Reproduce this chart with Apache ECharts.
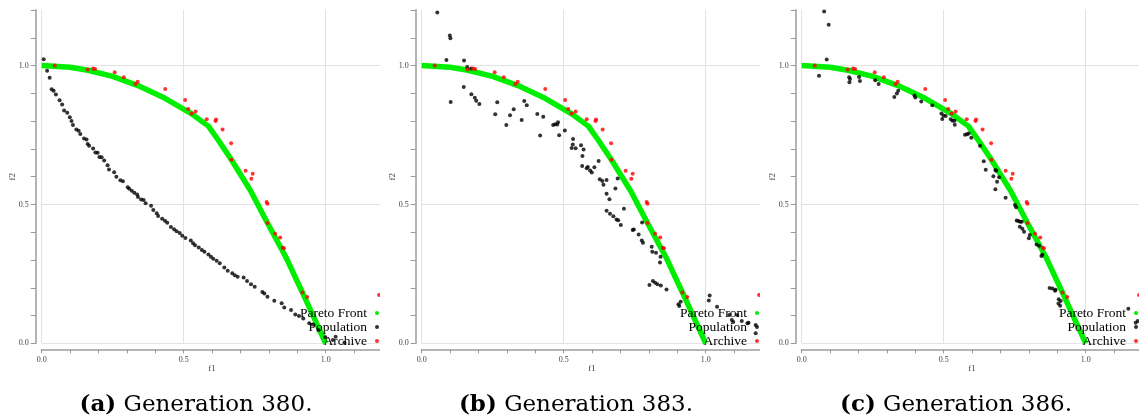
<!DOCTYPE html>
<html>
<head>
<meta charset="utf-8">
<script src="https://cdn.jsdelivr.net/npm/echarts@6/dist/echarts.min.js"></script>
<style>
  html, body { margin: 0; padding: 0; background: #fff; }
  #wrap { position: relative; width: 1139px; height: 418px; overflow: hidden; }
  .panel { position: absolute; top: 0; height: 418px; }
</style>
</head>
<body>
<div id="wrap">
  <div class="panel" id="p0" style="left:0px;width:380px"></div>
  <div class="panel" id="p1" style="left:380px;width:380px"></div>
  <div class="panel" id="p2" style="left:760px;width:379px"></div>
</div>
<script>
// ---- data: objective values (f1, f2) ----
const seriesNames = ['Pareto Front', 'Population', 'Archive'];
const panelLetters = ['(a)', '(b)', '(c)'];
const generations = [380, 383, 386];
const labelledTicks = [0, 0.5, 1.0];

// true Pareto front, traced as a polyline
const paretoFront = [
  [0.000, 1.000], [0.100, 0.994], [0.163, 0.983], [0.250, 0.961], [0.339, 0.928],
  [0.427, 0.886], [0.528, 0.826], [0.587, 0.782], [0.622, 0.731], [0.668, 0.661],
  [0.735, 0.550], [0.795, 0.433], [0.860, 0.310], [0.918, 0.183], [1.000, 0.000]
];

// external archive (same in all three generations)
const archive = [
  [0.046, 1.000], [0.162, 0.986], [0.181, 0.989], [0.188, 0.988], [0.257, 0.976],
  [0.289, 0.958], [0.330, 0.934], [0.338, 0.942], [0.435, 0.916], [0.505, 0.876],
  [0.516, 0.844], [0.528, 0.827], [0.542, 0.835], [0.581, 0.807], [0.612, 0.800],
  [0.614, 0.806], [0.637, 0.770], [0.667, 0.720], [0.668, 0.661], [0.718, 0.621],
  [0.743, 0.610], [0.738, 0.592], [0.792, 0.509], [0.795, 0.502], [0.795, 0.433],
  [0.822, 0.394], [0.840, 0.381], [0.849, 0.344], [0.853, 0.342], [0.918, 0.183],
  [0.935, 0.167], [1.188, 0.174]
];

const populationGen380 = [
  [0.007, 1.023], [0.019, 0.981], [0.028, 0.956], [0.035, 0.915], [0.042, 0.909],
  [0.050, 0.896], [0.063, 0.875], [0.072, 0.860], [0.079, 0.838], [0.090, 0.830],
  [0.099, 0.814], [0.105, 0.800], [0.110, 0.786], [0.122, 0.770], [0.130, 0.765],
  [0.136, 0.754], [0.149, 0.737], [0.158, 0.734], [0.162, 0.718], [0.167, 0.711],
  [0.181, 0.701], [0.189, 0.687], [0.197, 0.686], [0.203, 0.671], [0.211, 0.670],
  [0.220, 0.658], [0.232, 0.641], [0.237, 0.626], [0.255, 0.616], [0.263, 0.600],
  [0.277, 0.587], [0.286, 0.583], [0.303, 0.562], [0.308, 0.556], [0.317, 0.549],
  [0.326, 0.542], [0.336, 0.536], [0.339, 0.527], [0.350, 0.518], [0.359, 0.516],
  [0.366, 0.504], [0.385, 0.495], [0.393, 0.480], [0.405, 0.468], [0.410, 0.458],
  [0.424, 0.448], [0.434, 0.441], [0.442, 0.434], [0.455, 0.419], [0.466, 0.411],
  [0.475, 0.403], [0.486, 0.397], [0.495, 0.387], [0.506, 0.379], [0.525, 0.370],
  [0.533, 0.360], [0.540, 0.353], [0.553, 0.345], [0.564, 0.336], [0.573, 0.330],
  [0.587, 0.320], [0.596, 0.312], [0.604, 0.304], [0.616, 0.297], [0.627, 0.288],
  [0.643, 0.273], [0.655, 0.261], [0.671, 0.252], [0.680, 0.245], [0.690, 0.240],
  [0.711, 0.237], [0.723, 0.224], [0.737, 0.213], [0.750, 0.204], [0.777, 0.185],
  [0.784, 0.179], [0.795, 0.168], [0.819, 0.153], [0.845, 0.144], [0.854, 0.129],
  [0.878, 0.120], [0.893, 0.104], [0.906, 0.098], [0.921, 0.089], [0.942, 0.072],
  [0.955, 0.068], [0.974, 0.048], [0.999, 0.022], [1.025, 0.012], [1.035, 0.024],
  [1.066, 0.002]
];

const populationGen383 = [
  [0.055, 1.191], [0.099, 1.108], [0.101, 1.098], [0.087, 1.020], [0.149, 1.018],
  [0.160, 0.995], [0.174, 0.989], [0.148, 0.923], [0.102, 0.869], [0.175, 0.897],
  [0.187, 0.884], [0.192, 0.873], [0.203, 0.862], [0.266, 0.868], [0.259, 0.825],
  [0.298, 0.786], [0.311, 0.821], [0.324, 0.843], [0.352, 0.804], [0.361, 0.872],
  [0.370, 0.857], [0.407, 0.826], [0.428, 0.816], [0.417, 0.748], [0.463, 0.786],
  [0.470, 0.789], [0.477, 0.788], [0.480, 0.796], [0.484, 0.749], [0.504, 0.766],
  [0.533, 0.736], [0.532, 0.716], [0.528, 0.703], [0.542, 0.702], [0.561, 0.713],
  [0.570, 0.698], [0.566, 0.674], [0.565, 0.638], [0.581, 0.630], [0.585, 0.635],
  [0.593, 0.622], [0.599, 0.615], [0.608, 0.634], [0.623, 0.656], [0.627, 0.591],
  [0.636, 0.584], [0.640, 0.571], [0.651, 0.588], [0.651, 0.538], [0.661, 0.519],
  [0.690, 0.593], [0.682, 0.557], [0.712, 0.484], [0.651, 0.477], [0.663, 0.466],
  [0.675, 0.457], [0.686, 0.446], [0.692, 0.443], [0.701, 0.426], [0.743, 0.408],
  [0.747, 0.410], [0.764, 0.392], [0.775, 0.370], [0.779, 0.362], [0.776, 0.435],
  [0.810, 0.348], [0.812, 0.330], [0.825, 0.326], [0.841, 0.312], [0.839, 0.291],
  [0.802, 0.210], [0.814, 0.224], [0.822, 0.218], [0.830, 0.213], [0.842, 0.208],
  [0.862, 0.194], [0.904, 0.141], [0.907, 0.134], [0.912, 0.150], [1.011, 0.154],
  [1.014, 0.172], [1.040, 0.132], [1.083, 0.102], [1.092, 0.084], [1.097, 0.077],
  [1.111, 0.102], [1.127, 0.080], [1.147, 0.072], [1.151, 0.074], [1.176, 0.066],
  [1.176, 0.036]
];

const populationGen386 = [
  [0.079, 1.195], [0.095, 1.147], [0.088, 1.022], [0.061, 0.963], [0.167, 0.958],
  [0.170, 0.952], [0.168, 0.940], [0.202, 0.959], [0.205, 0.944], [0.259, 0.947],
  [0.271, 0.934], [0.326, 0.887], [0.335, 0.899], [0.340, 0.909], [0.397, 0.892],
  [0.400, 0.885], [0.421, 0.871], [0.460, 0.857], [0.492, 0.827], [0.499, 0.820],
  [0.507, 0.818], [0.495, 0.808], [0.525, 0.807], [0.531, 0.801], [0.538, 0.801],
  [0.539, 0.787], [0.575, 0.751], [0.582, 0.753], [0.588, 0.755], [0.597, 0.740],
  [0.628, 0.711], [0.641, 0.655], [0.648, 0.625], [0.675, 0.601], [0.682, 0.624],
  [0.685, 0.621], [0.688, 0.582], [0.682, 0.555], [0.695, 0.598], [0.718, 0.524],
  [0.751, 0.498], [0.755, 0.490], [0.757, 0.442], [0.763, 0.440], [0.769, 0.438],
  [0.775, 0.438], [0.768, 0.420], [0.777, 0.412], [0.783, 0.402], [0.803, 0.390],
  [0.800, 0.378], [0.827, 0.356], [0.836, 0.351], [0.844, 0.314], [0.847, 0.319],
  [0.873, 0.199], [0.883, 0.197], [0.892, 0.189], [0.894, 0.193], [0.905, 0.159],
  [0.912, 0.152], [0.904, 0.143], [0.910, 0.135], [1.150, 0.124], [1.176, 0.074],
  [1.183, 0.080]
];

const populations = [populationGen380, populationGen383, populationGen386];

// ---- styling ----
const tickFont = 'Liberation Serif';
const axisGray = '#b4b4b4';
const gridGray = '#e2e2e2';
const frontGreen = '#00ee00';

function tickLabel(v) {
  return labelledTicks.some(t => Math.abs(t - v) < 1e-6) ? v.toFixed(1) : '';
}
// grid lines only at the labelled ticks (every fifth 0.1 step)
const gridLineColors = [gridGray, 'rgba(0,0,0,0)', 'rgba(0,0,0,0)', 'rgba(0,0,0,0)', 'rgba(0,0,0,0)'];

function axisCommon(name, nameGap, tickLen, labelMargin) {
  return {
    type: 'value', min: 0, max: 1.2, interval: 0.1, offset: 6,
    name: name, nameLocation: 'middle', nameGap: nameGap, nameMoveOverlap: false,
    nameTextStyle: { fontFamily: tickFont, fontSize: 9, color: '#444' },
    axisLine: { show: true, onZero: false, lineStyle: { color: axisGray, width: 2 } },
    axisTick: { show: true, length: tickLen, lineStyle: { color: '#9a9a9a', width: 1 } },
    axisLabel: { formatter: tickLabel, fontFamily: tickFont, fontSize: 8, color: '#444', margin: labelMargin },
    splitLine: { show: true, lineStyle: { color: gridLineColors, width: 1 } }
  };
}

function buildOption(i, width) {
  return {
    animation: false,
    // the f1 axis runs to 1.2, slightly past the panel's right edge
    grid: { left: 41.7, top: 10, right: width - 382.5, bottom: 74.7,
            containLabel: false, outerBoundsMode: 'none' },
    xAxis: axisCommon('f1', 15, 4, 7),
    yAxis: axisCommon('f2', 19, 5, 7),
    legend: {
      data: seriesNames, orient: 'vertical', align: 'right', icon: 'circle',
      right: 1, top: 306, padding: 0, itemGap: 0, itemWidth: 10, itemHeight: 4,
      selectedMode: false,
      textStyle: { fontFamily: tickFont, fontSize: 13.5, lineHeight: 13.5, color: '#000' }
    },
    graphic: [{
      type: 'text', x: 196, y: 405, silent: true,
      style: {
        text: '{b|' + panelLetters[i] + '} Generation ' + generations[i] + '.',
        fontFamily: 'DejaVu Serif', fontSize: 23, fill: '#000',
        align: 'center', verticalAlign: 'middle',
        rich: { b: { fontFamily: 'DejaVu Serif', fontSize: 23, fontWeight: 'bold' } }
      }
    }],
    series: [
      {
        name: seriesNames[0], type: 'line', data: paretoFront, symbol: 'none',
        lineStyle: { color: frontGreen, width: 5.5 }, itemStyle: { color: frontGreen },
        silent: true, z: 2
      },
      {
        name: seriesNames[1], type: 'scatter', data: populations[i], symbolSize: 4,
        itemStyle: { color: '#000' }, silent: true, z: 3
      },
      {
        name: seriesNames[2], type: 'scatter', data: archive, symbolSize: 4,
        itemStyle: { color: '#ff0000' }, silent: true, z: 4
      }
    ]
  };
}

[380, 380, 379].forEach((w, i) => {
  const chart = echarts.init(document.getElementById('p' + i), null, { renderer: 'canvas' });
  chart.setOption(buildOption(i, w));
});
</script>
</body>
</html>
